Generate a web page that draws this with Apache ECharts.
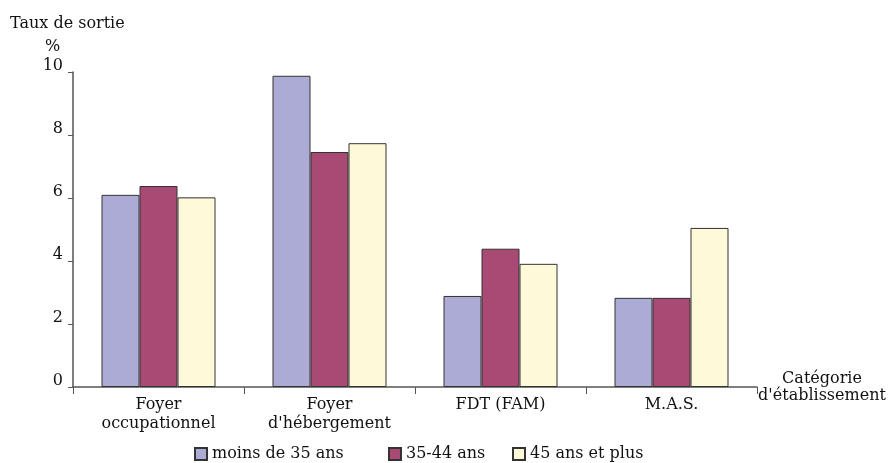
<!DOCTYPE html>
<html><head><meta charset="utf-8">
<script src="https://cdn.jsdelivr.net/npm/echarts@6/dist/echarts.min.js"></script>
<style>html,body{margin:0;padding:0;background:#fff}#c{width:893px;height:463px}</style>
</head><body><div id="c"></div>
<script>
const categories = ["Foyer\noccupationnel", "Foyer\nd'hébergement", "FDT (FAM)", "M.A.S."];
const seriesNames = ["moins de 35 ans", "35-44 ans", "45 ans et plus"];
const moins35 = [6.1, 9.88, 2.89, 2.83];
const age3544 = [6.38, 7.46, 4.39, 2.83];
const plus45 = [6.02, 7.74, 3.91, 5.05];
const yTicks = [0, 2, 4, 6, 8, 10];
const colors = ["#ABABD6", "#A94A75", "#FEF9D8"];
const FONT = "DejaVu Serif";
const FS = 16;
const legendLefts = [194, 388, 512];

const chart = echarts.init(document.getElementById('c'));
const mk = (name, data, i) => ({
  name, type: 'bar', data, barWidth: 38, barGap: '0%',
  itemStyle: { color: colors[i], borderColor: '#333', borderWidth: 1 }
});
chart.setOption({
  animation: false,
  textStyle: { fontFamily: FONT, color: '#111' },
  grid: { left: 73, right: 136, top: 72, bottom: 76 },
  graphic: [
    { type: 'text', left: 10, top: 16, style: { text: 'Taux de sortie', font: FS + 'px "' + FONT + '"', fill: '#111' } },
    { type: 'text', left: 45, top: 39, style: { text: '%', font: FS + 'px "' + FONT + '"', fill: '#111' } }
  ],
  xAxis: {
    type: 'category', data: categories,
    name: "Catégorie\nd'établissement", nameLocation: 'end', nameGap: 65,
    nameTextStyle: { fontFamily: FONT, fontSize: FS, color: '#111', lineHeight: 17, align: 'center', verticalAlign: 'middle', padding: [0, 0, 14, 0] },
    axisLine: { lineStyle: { color: '#555', width: 1.5 } },
    axisTick: { show: true, length: 7, lineStyle: { color: '#555' } },
    axisLabel: { fontFamily: FONT, fontSize: FS, color: '#111', lineHeight: 19, margin: 8 }
  },
  yAxis: {
    type: 'value', min: 0, max: 10, interval: 2,
    axisLine: { show: true, lineStyle: { color: '#555', width: 1.5 } },
    axisTick: { show: true, length: 5, lineStyle: { color: '#555' } },
    splitLine: { show: false },
    axisLabel: { fontFamily: FONT, fontSize: FS, color: '#111', margin: 10, verticalAlign: 'bottom', lineHeight: 12,
      formatter: v => yTicks.includes(v) ? String(v) : '' }
  },
  legend: seriesNames.map((n, i) => ({
    left: legendLefts[i] - 5, top: 441, itemWidth: 12, itemHeight: 12, icon: 'rect',
    textStyle: { fontFamily: FONT, fontSize: FS, color: '#111' },
    data: [n]
  })),
  series: [mk(seriesNames[0], moins35, 0), mk(seriesNames[1], age3544, 1), mk(seriesNames[2], plus45, 2)]
});
</script></body></html>
